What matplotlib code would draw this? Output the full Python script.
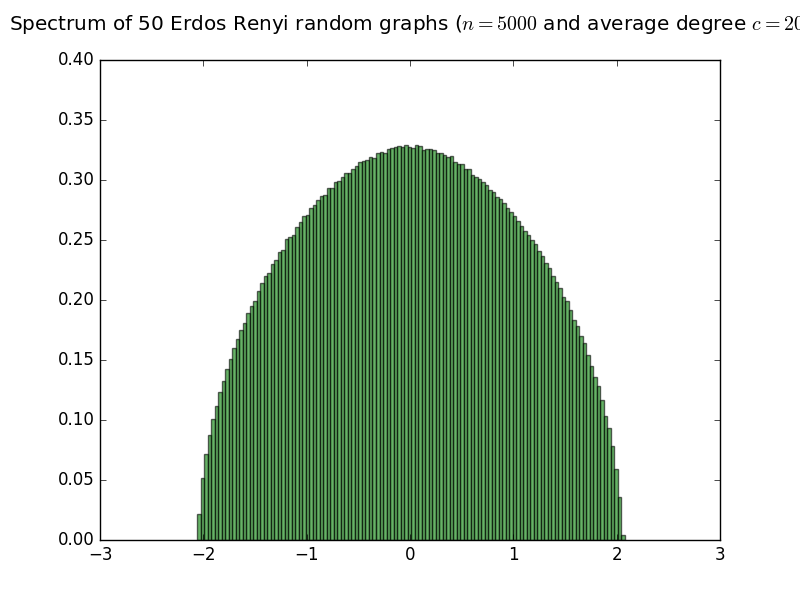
import numpy as np
import matplotlib
matplotlib.use('Agg')
import matplotlib.pyplot as plt

plt.style.use('classic')

# histogram range and bar heights (density)
x_min, x_max = -2.058, 2.078
heights = [
    0.0214, 0.0514, 0.0714, 0.0872, 0.1006, 0.1114, 0.1231, 0.1325, 0.1422, 0.1506,
    0.1597, 0.1672, 0.1747, 0.1806, 0.1889, 0.1950, 0.1989, 0.2072, 0.2139, 0.2197,
    0.2222, 0.2297, 0.2331, 0.2397, 0.2414, 0.2506, 0.2528, 0.2544, 0.2606, 0.2647,
    0.2697, 0.2706, 0.2764, 0.2789, 0.2831, 0.2864, 0.2872, 0.2931, 0.2931, 0.2981,
    0.2989, 0.3022, 0.3056, 0.3056, 0.3089, 0.3117, 0.3147, 0.3156, 0.3164, 0.3189,
    0.3181, 0.3222, 0.3231, 0.3225, 0.3256, 0.3267, 0.3273, 0.3281, 0.3272, 0.3290,
    0.3272, 0.3267, 0.3290, 0.3281, 0.3250, 0.3258, 0.3262, 0.3252, 0.3222, 0.3222,
    0.3210, 0.3192, 0.3198, 0.3147, 0.3131, 0.3131, 0.3089, 0.3089, 0.3042, 0.3022,
    0.3006, 0.2981, 0.2956, 0.2914, 0.2903, 0.2856, 0.2839, 0.2806, 0.2764, 0.2731,
    0.2697, 0.2656, 0.2614, 0.2572, 0.2539, 0.2497, 0.2464, 0.2406, 0.2364, 0.2306,
    0.2264, 0.2197, 0.2147, 0.2097, 0.2022, 0.1989, 0.1914, 0.1831, 0.1781, 0.1697,
    0.1639, 0.1539, 0.1447, 0.1356, 0.1281, 0.1164, 0.1031, 0.0931, 0.0781, 0.0589,
    0.0356, 0.0040,
]

edges = np.linspace(x_min, x_max, len(heights) + 1)

fig = plt.figure(figsize=(8, 6), dpi=100)
ax = fig.add_subplot(111)
ax.bar(edges[:-1], heights, width=np.diff(edges), align='edge',
       color='g', alpha=0.6, edgecolor='k', linewidth=1)

ax.set_xlim(-3, 3)
ax.set_ylim(0, 0.4)
ax.set_yticks(np.arange(0, 0.41, 0.05))
ax.yaxis.set_major_formatter(matplotlib.ticker.FormatStrFormatter('%.2f'))
# title sits well above the frame and runs off the right edge, as in the original
ax.set_title('Spectrum of 50 Erdos Renyi random graphs ($n=5000$ and average degree $c=20$)',
             y=1.047)

fig.savefig('out.png', dpi=100, facecolor='white')
